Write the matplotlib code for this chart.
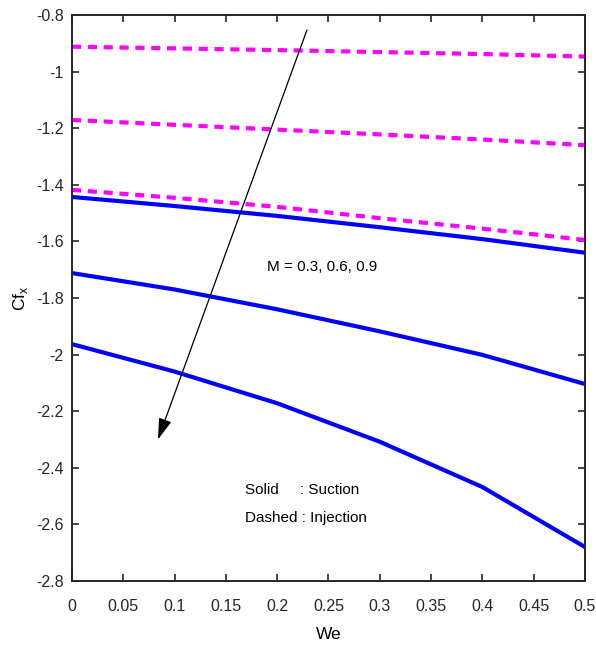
import numpy as np
import matplotlib
matplotlib.use("Agg")
import matplotlib.pyplot as plt

plt.rcParams['font.family'] = ['Liberation Sans Narrow', 'Liberation Sans', 'DejaVu Sans']

# Weissenberg number
we = [0.0, 0.1, 0.2, 0.3, 0.4, 0.5]

# skin friction, suction case (M = 0.3, 0.6, 0.9)
cf_suction_m03 = [-1.443, -1.475, -1.510, -1.550, -1.592, -1.640]
cf_suction_m06 = [-1.712, -1.770, -1.840, -1.918, -2.001, -2.104]
cf_suction_m09 = [-1.963, -2.060, -2.172, -2.308, -2.468, -2.680]

# skin friction, injection case (M = 0.3, 0.6, 0.9)
cf_injection_m03 = [-0.912, -0.918, -0.924, -0.931, -0.938, -0.947]
cf_injection_m06 = [-1.171, -1.188, -1.205, -1.222, -1.240, -1.260]
cf_injection_m09 = [-1.418, -1.446, -1.478, -1.518, -1.555, -1.595]

xticks = [0, 0.05, 0.1, 0.15, 0.2, 0.25, 0.3, 0.35, 0.4, 0.45, 0.5]
xticklabels = ['0', '0.05', '0.1', '0.15', '0.2', '0.25', '0.3', '0.35', '0.4', '0.45', '0.5']
yticks = [-2.8, -2.6, -2.4, -2.2, -2, -1.8, -1.6, -1.4, -1.2, -1, -0.8]
yticklabels = ['-2.8', '-2.6', '-2.4', '-2.2', '-2', '-1.8', '-1.6', '-1.4', '-1.2', '-1', '-0.8']

fig = plt.figure(figsize=(5.96, 6.49), dpi=100)
ax = fig.add_axes([0.1208, 0.1048, 0.8607, 0.8721])

for cf in (cf_suction_m03, cf_suction_m06, cf_suction_m09):
    ax.plot(we, cf, color='#0000ff', lw=3.0, solid_capstyle='butt')
for cf in (cf_injection_m03, cf_injection_m06, cf_injection_m09):
    ax.plot(we, cf, color='#ff00ff', lw=3.0, linestyle=(0, (2.2, 1.6)))

# direction of increasing M
ax.annotate('', xy=(0.0838, -2.30), xytext=(0.229, -0.853),
            arrowprops=dict(arrowstyle='-|>,head_length=1.3,head_width=0.4',
                            color='black', lw=0.9, shrinkA=0, shrinkB=0))

ax.text(0.19, -1.69, 'M = 0.3, 0.6, 0.9', fontsize=11, va='center', ha='left')
ax.text(0.169, -2.48, 'Solid     : Suction', fontsize=11, va='center', ha='left')
ax.text(0.169, -2.578, 'Dashed : Injection', fontsize=11, va='center', ha='left')

ax.set_xlim(0, 0.5)
ax.set_ylim(-2.8, -0.8)
ax.set_xticks(xticks)
ax.set_xticklabels(xticklabels)
ax.set_yticks(yticks)
ax.set_yticklabels(yticklabels)
ax.tick_params(direction='in', top=True, right=True, length=5, width=1.2,
               labelsize=11.5, colors='#262626')
ax.tick_params(axis='x', pad=13)
ax.tick_params(axis='y', pad=6)
for s in ax.spines.values():
    s.set_linewidth(1.4)
    s.set_color('#262626')

ax.set_xlabel('We', fontsize=12.5, labelpad=9)
ax.set_ylabel(r'Cf$_{\mathregular{x}}$', fontsize=12.5, labelpad=4)

fig.savefig('out.png', dpi=100)
